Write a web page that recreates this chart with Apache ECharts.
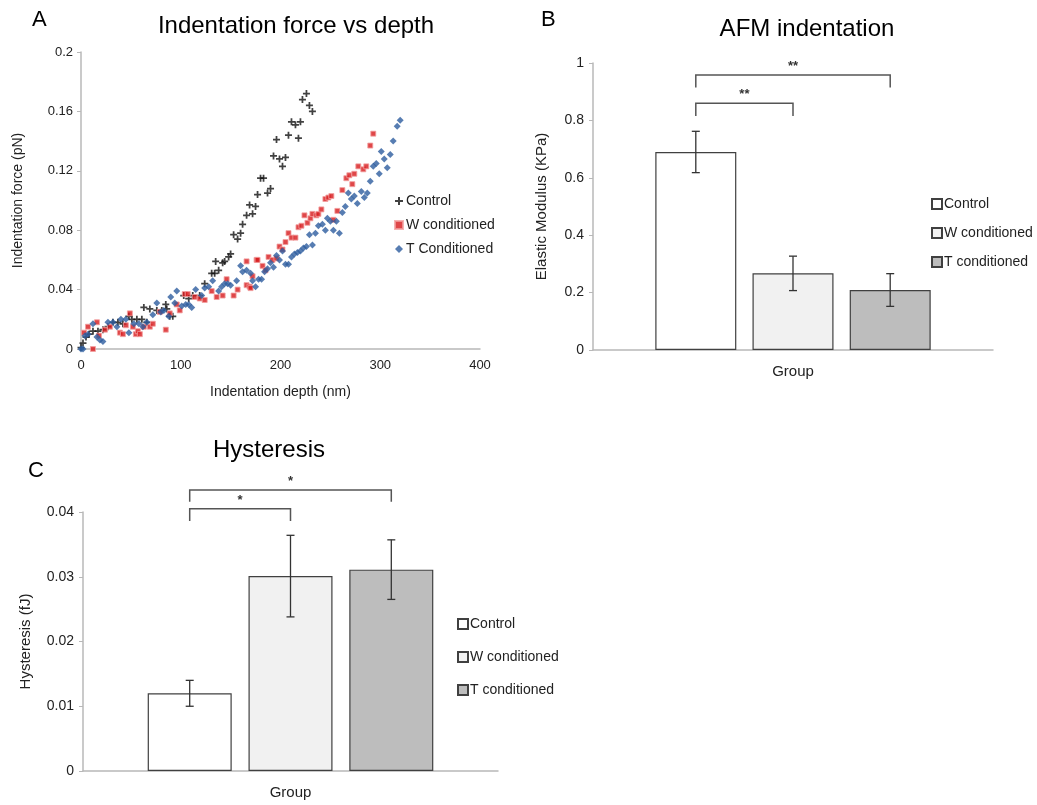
<!DOCTYPE html>
<html>
<head>
<meta charset="utf-8">
<script src="https://cdn.jsdelivr.net/npm/echarts@6/dist/echarts.min.js"></script>
<style>
  body { margin: 0; background: #fff; }
  .panel { position: absolute; }
</style>
</head>
<body>
<div id="chartA" class="panel" style="left:0;top:0;width:520px;height:410px"></div>
<div id="chartB" class="panel" style="left:520px;top:0;width:517px;height:410px"></div>
<div id="chartC" class="panel" style="left:0;top:420px;width:600px;height:385px"></div>
<script>
// ---- panel A: indentation force vs depth (depth nm, force pN)
const controlPts = [
  [0, 0.001], [2, 0.004], [5, 0.008], [8, 0.010], [12, 0.012], [17, 0.012], [22, 0.013],
  [27, 0.015], [32, 0.018], [37, 0.018], [42, 0.017], [48, 0.022], [51, 0.020], [56, 0.020],
  [61, 0.020], [63, 0.028], [66, 0.018], [69, 0.027], [76, 0.026], [81, 0.026], [85, 0.030],
  [86, 0.027], [89, 0.022], [92, 0.022], [103, 0.036], [108, 0.034], [112, 0.036], [119, 0.036],
  [124, 0.044], [131, 0.051], [134, 0.051], [135, 0.059], [138, 0.053], [142, 0.058], [144, 0.059],
  [148, 0.062], [150, 0.064], [153, 0.077], [157, 0.074], [160, 0.078], [162, 0.084], [166, 0.090],
  [169, 0.097], [172, 0.091], [175, 0.096], [177, 0.104], [180, 0.115], [183, 0.115], [187, 0.105],
  [190, 0.108], [193, 0.130], [196, 0.141], [199, 0.128], [202, 0.123], [205, 0.129], [208, 0.144],
  [211, 0.153], [215, 0.151], [218, 0.142], [220, 0.153], [222, 0.168], [226, 0.172], [229, 0.164],
  [232, 0.160]
];
const wPts = [
  [3, 0.011], [7, 0.015], [12, 0.000], [16, 0.018], [18, 0.009], [24, 0.013], [29, 0.015],
  [39, 0.011], [42, 0.010], [45, 0.016], [49, 0.024], [52, 0.015], [55, 0.010], [57, 0.012],
  [59, 0.010], [63, 0.015], [69, 0.015], [72, 0.017], [79, 0.025], [85, 0.013], [89, 0.024],
  [96, 0.030], [99, 0.026], [104, 0.037], [107, 0.037], [114, 0.035], [119, 0.034], [124, 0.033],
  [131, 0.039], [136, 0.035], [142, 0.036], [146, 0.047], [153, 0.036], [157, 0.040], [166, 0.043],
  [166, 0.059], [169, 0.042], [170, 0.041], [172, 0.049], [176, 0.060], [177, 0.060], [182, 0.056],
  [185, 0.053], [188, 0.062], [192, 0.060], [196, 0.061], [199, 0.069], [202, 0.067], [205, 0.072],
  [208, 0.078], [211, 0.075], [215, 0.075], [218, 0.082], [221, 0.083], [224, 0.090], [227, 0.085],
  [230, 0.088], [232, 0.091], [236, 0.090], [238, 0.091], [241, 0.094], [245, 0.101], [248, 0.102],
  [251, 0.103], [253, 0.087], [257, 0.093], [262, 0.107], [266, 0.115], [269, 0.117], [272, 0.111],
  [274, 0.118], [278, 0.123], [283, 0.121], [286, 0.123], [290, 0.137], [293, 0.145]
];
const tPts = [
  [0, 0.000], [2, 0.000], [4, 0.009], [7, 0.010], [12, 0.017], [16, 0.008], [19, 0.006],
  [22, 0.005], [27, 0.018], [32, 0.018], [36, 0.015], [40, 0.020], [45, 0.020], [48, 0.011],
  [53, 0.017], [58, 0.017], [62, 0.015], [66, 0.018], [72, 0.023], [76, 0.031], [80, 0.025],
  [83, 0.026], [88, 0.022], [90, 0.035], [94, 0.031], [96, 0.039], [101, 0.029], [105, 0.030],
  [108, 0.030], [111, 0.028], [115, 0.040], [121, 0.036], [124, 0.041], [128, 0.042], [132, 0.046],
  [138, 0.039], [141, 0.042], [144, 0.044], [147, 0.044], [150, 0.043], [156, 0.046], [160, 0.056],
  [162, 0.052], [166, 0.053], [170, 0.051], [172, 0.046], [175, 0.042], [178, 0.047], [181, 0.047],
  [184, 0.052], [187, 0.054], [190, 0.058], [193, 0.055], [196, 0.063], [199, 0.060], [202, 0.066],
  [205, 0.057], [208, 0.057], [211, 0.062], [214, 0.064], [217, 0.065], [220, 0.066], [223, 0.068],
  [226, 0.069], [229, 0.077], [232, 0.070], [235, 0.078], [238, 0.083], [242, 0.084], [245, 0.080],
  [247, 0.088], [250, 0.086], [253, 0.080], [256, 0.086], [259, 0.078], [262, 0.092], [265, 0.096],
  [268, 0.105], [271, 0.101], [274, 0.103], [277, 0.098], [281, 0.106], [284, 0.102], [287, 0.105],
  [290, 0.113], [293, 0.123], [296, 0.125], [299, 0.118], [301, 0.133], [304, 0.128], [307, 0.122],
  [310, 0.131], [313, 0.140], [317, 0.150], [320, 0.154]
];

// ---- panels B and C: group means with error bars
const groups = ['Control', 'W conditioned', 'T conditioned'];
const modulusMean = [0.69, 0.267, 0.209];
const modulusErr = [0.072, 0.06, 0.057];
const hystMean = [0.012, 0.0301, 0.0311];
const hystErr = [0.002, 0.0063, 0.0046];
// significance brackets: [from group, to group, label]
const modulusSig = [[0, 1, '**'], [0, 2, '**']];
const hystSig = [[0, 1, '*'], [0, 2, '*']];

const FONT = 'Liberation Sans, Arial, sans-serif';
const barFills = ['#ffffff', '#f1f1f1', '#bdbdbd'];
const plus = 'path://M3,0h2v3h3v2h-3v3h-2v-3h-3v-2h3z';

const chartA = echarts.init(document.getElementById('chartA'));
chartA.setOption({
  animation: false,
  textStyle: { fontFamily: FONT },
  title: [
    { text: 'A', left: 27, top: 4, textStyle: { fontSize: 22, fontWeight: 'normal', color: '#000', fontFamily: FONT } },
    { text: 'Indentation force vs depth', left: 291, top: 9, textAlign: 'center',
      textStyle: { fontSize: 24, fontWeight: 'normal', color: '#000', fontFamily: FONT } }
  ],
  legend: {
    orient: 'vertical', left: 389, top: 189, itemGap: 10, itemWidth: 8, itemHeight: 8,
    textStyle: { fontSize: 14, color: '#222', fontFamily: FONT, padding: [0, 0, 0, -2] },
    data: ['Control', 'W conditioned', 'T Conditioned']
  },
  grid: { left: 81, top: 52, width: 399, height: 297 },
  xAxis: {
    type: 'value', min: 0, max: 400, interval: 100,
    name: 'Indentation depth (nm)', nameLocation: 'middle', nameGap: 36,
    nameTextStyle: { fontSize: 14, color: '#222' },
    axisLine: { lineStyle: { color: '#b8b8b8', width: 1.5 } },
    axisTick: { show: false },
    axisLabel: { fontSize: 13, color: '#222', margin: 10 },
    splitLine: { show: false }
  },
  yAxis: {
    type: 'value', min: 0, max: 0.2, interval: 0.04,
    name: 'Indentation force (pN)', nameLocation: 'middle', nameGap: 56,
    nameTextStyle: { fontSize: 14, color: '#222' },
    axisLine: { show: true, lineStyle: { color: '#b8b8b8', width: 1.5 } },
    axisTick: { show: true, length: 4, lineStyle: { color: '#b8b8b8' } },
    axisLabel: { fontSize: 13, color: '#222', margin: 8 },
    splitLine: { show: false }
  },
  series: [
    { name: 'Control', type: 'scatter', data: controlPts, symbol: plus, symbolSize: 7,
      itemStyle: { color: '#111' } },
    { name: 'W conditioned', type: 'scatter', data: wPts, symbol: 'rect', symbolSize: 5,
      itemStyle: { color: '#d7191c', borderColor: '#f2a0a0', borderWidth: 1 } },
    { name: 'T Conditioned', type: 'scatter', data: tPts, symbol: 'diamond', symbolSize: 7,
      itemStyle: { color: '#2d5d9f' } }
  ]
});

function barChart(el, cfg) {
  const chart = echarts.init(el);
  const barW = cfg.barW, step = barW * 1.2;
  const xOf = (api, k) => api.coord([0, 0])[0] + (k - 1) * step;
  const series = groups.map((g, k) => ({
    name: g, type: 'bar', barWidth: barW, barGap: '20%',
    data: [cfg.mean[k]],
    itemStyle: { color: barFills[k], borderColor: '#404040', borderWidth: 1.2 }
  }));
  series.push({
    type: 'custom', silent: true, z: 5,
    data: cfg.mean.map((m, k) => [0, m, cfg.err[k]]),
    encode: { x: 0, y: 1 },
    renderItem: function (params, api) {
      const k = params.dataIndex;
      const x = xOf(api, k);
      const hi = api.coord([0, api.value(1) + api.value(2)])[1];
      const lo = api.coord([0, api.value(1) - api.value(2)])[1];
      const st = { stroke: '#333', lineWidth: 1.3 };
      return { type: 'group', children: [
        { type: 'line', shape: { x1: x, y1: hi, x2: x, y2: lo }, style: st },
        { type: 'line', shape: { x1: x - 4, y1: hi, x2: x + 4, y2: hi }, style: st },
        { type: 'line', shape: { x1: x - 4, y1: lo, x2: x + 4, y2: lo }, style: st }
      ] };
    }
  });
  series.push({
    type: 'custom', silent: true, z: 5,
    data: cfg.sig.map((s, i) => [0, cfg.sigTop[i], cfg.sigDrop[i]]),
    encode: { x: 0, y: 1 },
    renderItem: function (params, api) {
      const s = cfg.sig[params.dataIndex];
      const x1 = xOf(api, s[0]), x2 = xOf(api, s[1]);
      const top = api.coord([0, api.value(1)])[1];
      const bot = api.coord([0, api.value(2)])[1];
      return { type: 'group', children: [
        { type: 'polyline', shape: { points: [[x1, bot], [x1, top], [x2, top], [x2, bot]] },
          style: { stroke: '#555', lineWidth: 1.5, fill: null } },
        { type: 'text', style: { text: s[2], x: (x1 + x2) / 2, y: top - cfg.starGap,
            textAlign: 'center', textVerticalAlign: 'bottom', fontSize: 13, fontWeight: 'bold',
            fill: '#333', fontFamily: FONT } }
      ] };
    }
  });
  chart.setOption({
    animation: false,
    textStyle: { fontFamily: FONT },
    title: [
      { text: cfg.letter, left: cfg.letterPos[0], top: cfg.letterPos[1],
        textStyle: { fontSize: 22, fontWeight: 'normal', color: '#000', fontFamily: FONT } },
      { text: cfg.title, left: cfg.titlePos[0], top: cfg.titlePos[1], textAlign: 'center',
        textStyle: { fontSize: 24, fontWeight: 'normal', color: '#000', fontFamily: FONT } }
    ],
    legend: {
      orient: 'vertical', left: cfg.legendPos[0], top: cfg.legendPos[1], itemGap: cfg.legendGap,
      itemWidth: 10, itemHeight: 10, icon: 'rect',
      textStyle: { fontSize: 14, color: '#222', fontFamily: FONT, padding: [0, 0, 0, -3] },
      data: groups
    },
    grid: cfg.grid,
    xAxis: {
      type: 'category', data: ['Group'],
      axisLine: { lineStyle: { color: '#b8b8b8', width: 1.5 } },
      axisTick: { show: false },
      axisLabel: { fontSize: 15, color: '#222', margin: 14 }
    },
    yAxis: {
      type: 'value', min: 0, max: cfg.yMax, interval: cfg.yStep,
      name: cfg.yName, nameLocation: 'middle', nameGap: cfg.nameGap,
      nameTextStyle: { fontSize: 15, color: '#222' },
      axisLine: { show: true, lineStyle: { color: '#b8b8b8', width: 1.5 } },
      axisTick: { show: true, length: 4, lineStyle: { color: '#b8b8b8' } },
      axisLabel: { fontSize: 14, color: '#222', margin: 9 },
      splitLine: { show: false }
    },
    series: series
  });
  return chart;
}

const chartB = barChart(document.getElementById('chartB'), {
  letter: 'B', letterPos: [16, 4], title: 'AFM indentation', titlePos: [282, 12],
  legendPos: [406, 192], legendGap: 15,
  grid: { left: 73, top: 63, width: 400, height: 287 },
  barW: 81, mean: modulusMean, err: modulusErr,
  sig: modulusSig, sigTop: [0.86, 0.958], sigDrop: [0.815, 0.915], starGap: 2,
  yMax: 1, yStep: 0.2, yName: 'Elastic Modulus (KPa)', nameGap: 44
});

const chartC = barChart(document.getElementById('chartC'), {
  letter: 'C', letterPos: [23, 35], title: 'Hysteresis', titlePos: [264, 13],
  legendPos: [452, 192], legendGap: 19,
  grid: { left: 83, top: 92, width: 415, height: 259 },
  barW: 84, mean: hystMean, err: hystErr,
  sig: hystSig, sigTop: [0.0405, 0.0434], sigDrop: [0.0386, 0.0416], starGap: 2,
  yMax: 0.04, yStep: 0.01, yName: 'Hysteresis (fJ)', nameGap: 50
});
</script>
</body>
</html>
